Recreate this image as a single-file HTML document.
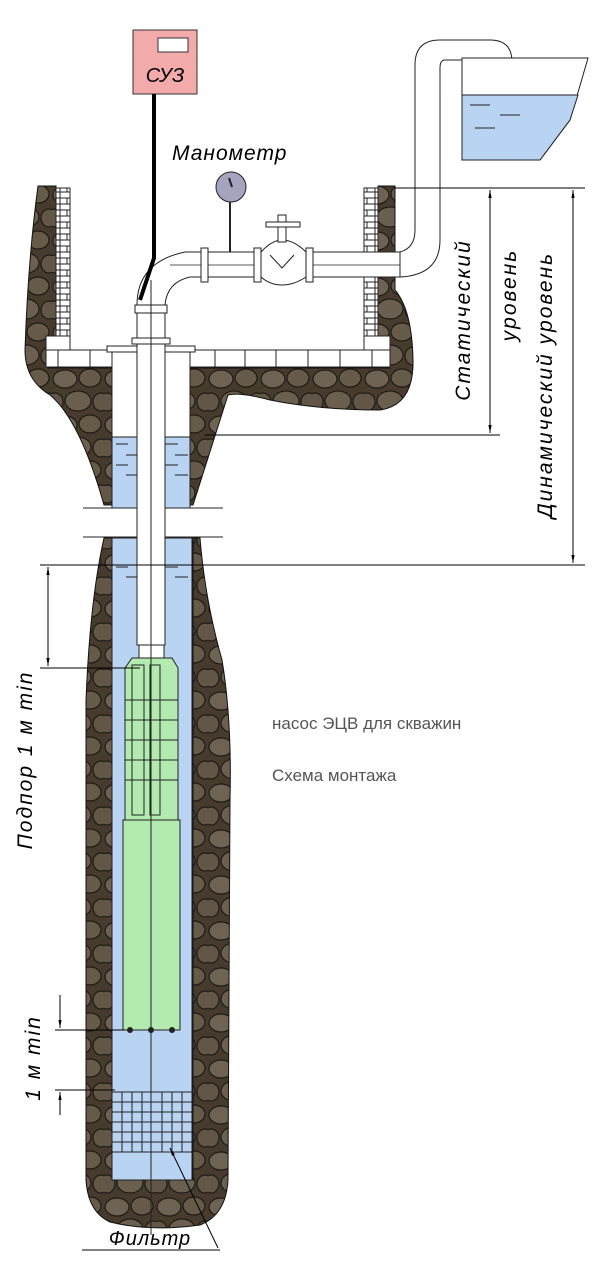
<!DOCTYPE html>
<html><head><meta charset="utf-8"><style>
html,body{margin:0;padding:0;background:#fff;width:600px;height:1263px;overflow:hidden}
svg{display:block}
text{font-family:"Liberation Sans","DejaVu Sans",sans-serif}
</style></head><body>
<svg width="600" height="1263" viewBox="0 0 600 1263" xmlns="http://www.w3.org/2000/svg">
<defs>
<pattern id="st" width="52" height="46" patternUnits="userSpaceOnUse">
<rect width="52" height="46" fill="#463b2c"/>
<ellipse cx="13" cy="11" rx="12" ry="9" fill="#6e6352" stroke="#1e1a14" stroke-width="1.2"/>
<ellipse cx="38" cy="10" rx="11" ry="9" fill="#665b49" stroke="#1e1a14" stroke-width="1.2"/>
<ellipse cx="26" cy="33" rx="13" ry="10" fill="#6b604f" stroke="#1e1a14" stroke-width="1.2"/>
<ellipse cx="3" cy="34" rx="8" ry="9" fill="#625746" stroke="#1e1a14" stroke-width="1.2"/>
<ellipse cx="49" cy="34" rx="8" ry="9" fill="#625746" stroke="#1e1a14" stroke-width="1.2"/>
</pattern>
<pattern id="br" width="15" height="12" patternUnits="userSpaceOnUse">
<rect width="15" height="12" fill="#fff" stroke="#222" stroke-width="1"/>
<line x1="7" y1="6" x2="7" y2="12" stroke="#222"/><line x1="0" y1="6" x2="15" y2="6" stroke="#222"/>
</pattern>
<marker id="ar" viewBox="0 0 10 10" refX="10" refY="5" markerWidth="8" markerHeight="8" orient="auto-start-reverse"><path d="M0,3 L10,5 L0,7z" fill="#000"/></marker>
</defs>

<path d="M38,186 L56,186 L56,340 L48,340 L48,368 L112,368 L112,505 L104,505 Q80,420 50,395 Q25,380 25,350 Q28,260 38,186Z" fill="url(#st)" stroke="#111"/>
<path d="M378,186 L395,186 L395,290 Q412,310 413,360 Q414,405 380,410 Q320,410 270,400 Q240,392 228,395 L193,505 L190,505 L190,368 L390,368 L390,340 L378,340Z" fill="url(#st)" stroke="#111"/>
<rect x="56" y="188" width="14" height="148" fill="url(#br)" stroke="#222"/>
<rect x="364" y="188" width="14" height="148" fill="url(#br)" stroke="#222"/>
<rect x="46" y="336" width="24" height="14" fill="#fff" stroke="#222"/>
<rect x="364" y="336" width="26" height="14" fill="#fff" stroke="#222"/>
<rect x="46" y="350" width="344" height="17" fill="#fff" stroke="#222"/>
<g stroke="#222"><line x1="58" y1="350" x2="58" y2="367"/><line x1="90" y1="350" x2="90" y2="367"/><line x1="215" y1="350" x2="215" y2="367"/><line x1="245" y1="350" x2="245" y2="367"/><line x1="276" y1="350" x2="276" y2="367"/><line x1="308" y1="350" x2="308" y2="367"/><line x1="340" y1="350" x2="340" y2="367"/><line x1="372" y1="350" x2="372" y2="367"/></g>

<path d="M104,538 L112,538 L112,1180 L193,1180 L193,538 L200,538 Q205,600 222,660 Q232,720 230,800 L228,1180 Q226,1215 200,1225 Q150,1232 110,1222 Q88,1212 86,1180 L86,700 Q90,600 104,538Z" fill="url(#st)" stroke="#111"/>
<rect x="112" y="352" width="78" height="85" fill="#fff" stroke="#222"/>
<rect x="112" y="437" width="78" height="71" fill="#b9d3f2" stroke="#222"/>
<rect x="112" y="538" width="80" height="642" fill="#b9d3f2" stroke="#222"/>
<g stroke="#222"><line x1="116" y1="444" x2="128" y2="444"/><line x1="126" y1="455" x2="137" y2="455"/><line x1="116" y1="465" x2="128" y2="465"/><line x1="126" y1="475" x2="137" y2="475"/><line x1="165" y1="444" x2="178" y2="444"/><line x1="175" y1="455" x2="188" y2="455"/><line x1="165" y1="465" x2="178" y2="465"/><line x1="175" y1="475" x2="188" y2="475"/>
<line x1="116" y1="567" x2="128" y2="567"/><line x1="126" y1="577" x2="137" y2="577"/><line x1="165" y1="567" x2="178" y2="567"/><line x1="175" y1="577" x2="188" y2="577"/></g>
<rect x="107" y="346" width="88" height="6" fill="#fff" stroke="#222"/>
<line x1="83" y1="508" x2="223" y2="508" stroke="#222"/>
<line x1="83" y1="537" x2="223" y2="537" stroke="#222"/>
<rect x="112" y="509" width="80" height="27" fill="#fff"/>

<rect x="137" y="305" width="28" height="340" fill="#fff" stroke="#222"/>
<rect x="132" y="338" width="38" height="6" fill="#fff" stroke="#222"/>
<rect x="135" y="305" width="32" height="8" fill="#fff" stroke="#222"/>
<path d="M137,305 Q137,262 185,252 L400,252 L400,277 L190,277 Q167,282 165,305Z" fill="#fff" stroke="#222"/>
<line x1="151" y1="280" x2="151" y2="1235" stroke="#222"/>
<line x1="170" y1="265" x2="405" y2="265" stroke="#222" stroke-width=".8"/>
<g fill="#fff" stroke="#222"><rect x="201" y="248" width="7" height="34"/><rect x="254" y="248" width="7" height="34"/><rect x="306" y="248" width="7" height="34"/>
<path d="M261,252 Q272,240 282,240 Q294,240 306,252 L306,277 Q294,285 282,285 Q270,285 261,277Z"/>
<rect x="278" y="215" width="8" height="27"/><rect x="266" y="222" width="34" height="5"/></g>
<path d="M270,255 L282,268 L294,255" fill="none" stroke="#222"/>
<line x1="230" y1="200" x2="230" y2="252" stroke="#222" stroke-width="2"/>
<circle cx="231" cy="187" r="15" fill="#a5a3bd" stroke="#222"/>
<line x1="229" y1="178" x2="232" y2="187" stroke="#222" stroke-width="2"/>
<path d="M400,252 Q415,248 415,230 L415,65 Q415,40 440,40 L490,40 Q512,40 512,62 L512,82 L488,82 L488,65 Q488,60 480,60 L445,60 Q440,60 440,68 L440,240 Q440,275 400,277Z" fill="#fff" stroke="#222"/>
<path d="M462,58 L588,58 L570,120 L540,160 L462,160Z" fill="#fff" stroke="#222"/>
<path d="M462,95 L578,95 L570,120 L540,160 L462,160Z" fill="#b9d3f2" stroke="#222"/>
<g stroke="#222"><line x1="470" y1="105" x2="490" y2="105"/><line x1="500" y1="115" x2="520" y2="115"/><line x1="475" y1="128" x2="495" y2="128"/></g>

<rect x="133" y="30" width="64" height="64" fill="#f3aaaa" stroke="#333"/>
<rect x="158" y="38" width="30" height="14" fill="#fff" stroke="#333"/>
<text x="165" y="82" font-size="20" font-style="italic" text-anchor="middle">СУЗ</text>
<path d="M154,94 L154,258 L140,300" fill="none" stroke="#000" stroke-width="4"/>
<text x="172" y="160" font-size="21" font-style="italic" letter-spacing="1">Манометр</text>

<path d="M125,668 L132,658 L172,658 L178,668 L178,820 L125,820Z" fill="#b3eab0" stroke="#222"/>
<rect x="139" y="645" width="25" height="13" fill="#fff" stroke="#222"/>
<g stroke="#222" fill="none"><rect x="132" y="665" width="12" height="150"/><rect x="150" y="665" width="10" height="150"/>
<line x1="125" y1="700" x2="178" y2="700"/><line x1="125" y1="720" x2="178" y2="720"/><line x1="125" y1="740" x2="178" y2="740"/><line x1="125" y1="760" x2="178" y2="760"/><line x1="125" y1="780" x2="178" y2="780"/></g>
<rect x="123" y="820" width="57" height="210" fill="#b3eab0" stroke="#222"/>
<g fill="#222"><circle cx="130" cy="1030" r="3"/><circle cx="151" cy="1030" r="3"/><circle cx="172" cy="1030" r="3"/></g>
<line x1="151" y1="640" x2="151" y2="1040" stroke="#222"/>
<g stroke="#222"><rect x="112" y="1092" width="80" height="60" fill="none"/>
<line x1="112" y1="1102" x2="192" y2="1102"/><line x1="112" y1="1112" x2="192" y2="1112"/><line x1="112" y1="1122" x2="192" y2="1122"/><line x1="112" y1="1132" x2="192" y2="1132"/><line x1="112" y1="1142" x2="192" y2="1142"/>
<line x1="122" y1="1092" x2="122" y2="1152"/><line x1="132" y1="1092" x2="132" y2="1152"/><line x1="142" y1="1092" x2="142" y2="1152"/><line x1="162" y1="1092" x2="162" y2="1152"/><line x1="172" y1="1092" x2="172" y2="1152"/><line x1="182" y1="1092" x2="182" y2="1152"/></g>
<line x1="218" y1="1248" x2="170" y2="1148" stroke="#000" marker-end="url(#ar)"/>
<line x1="82" y1="1250" x2="220" y2="1250" stroke="#000"/>
<text x="150" y="1245" font-size="20" font-style="italic" text-anchor="middle" letter-spacing="1">Фильтр</text>

<g stroke="#000" fill="none">
<line x1="395" y1="188" x2="585" y2="188"/>
<line x1="205" y1="435" x2="500" y2="435"/>
<line x1="40" y1="565" x2="585" y2="565"/>
<line x1="490" y1="190" x2="490" y2="433" marker-start="url(#ar)" marker-end="url(#ar)"/>
<line x1="573" y1="190" x2="573" y2="563" marker-start="url(#ar)" marker-end="url(#ar)"/>
<line x1="40" y1="668" x2="140" y2="668"/>
<line x1="48" y1="567" x2="48" y2="666" marker-start="url(#ar)" marker-end="url(#ar)"/>
<line x1="55" y1="1030" x2="125" y2="1030"/>
<line x1="55" y1="1090" x2="115" y2="1090"/>
<line x1="60" y1="995" x2="60" y2="1028" marker-end="url(#ar)"/>
<line x1="60" y1="1115" x2="60" y2="1092" marker-end="url(#ar)"/>
</g>
<g font-size="21" font-style="italic" text-anchor="middle" letter-spacing="2">
<text transform="translate(470,320) rotate(-90)">Статический</text>
<text transform="translate(516,295) rotate(-90)">уровень</text>
<text transform="translate(552,385) rotate(-90)">Динамический уровень</text>
<text transform="translate(32,760) rotate(-90)">Подпор 1  м min</text>
<text transform="translate(40,1058) rotate(-90)">1  м min</text>
</g>
<text x="272" y="729" font-size="17" fill="#555">насос ЭЦВ для скважин</text>
<text x="272" y="781" font-size="17" fill="#555">Схема монтажа</text>
</svg>
</body></html>
